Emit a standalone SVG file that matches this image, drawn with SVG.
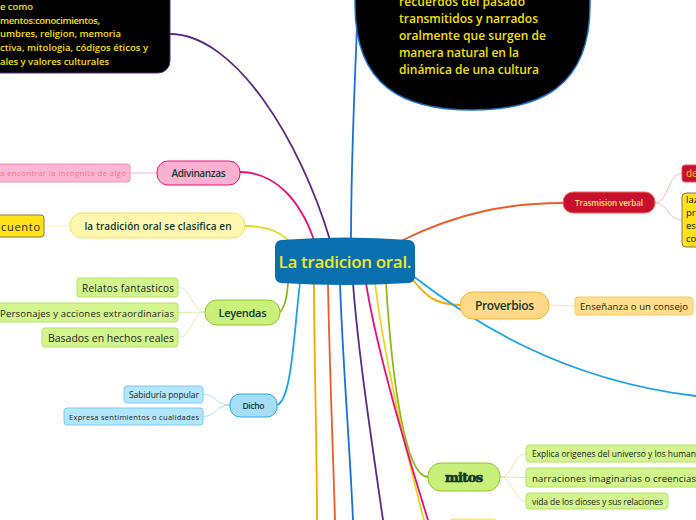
<svg xmlns="http://www.w3.org/2000/svg" width="696" height="520" viewBox="0 0 696 520">
<style>
.t{font-family:"Open Sans","Noto Sans","DejaVu Sans",sans-serif;}
.hd{fill:#10392f;font-weight:600;}
.ch{fill:#222;}
.m{fill:none;stroke-width:1.8;stroke-linecap:round;}
.s{fill:none;stroke-width:1;}
.yl{fill:#f5e000;font-weight:600;}
.lg{fill:#d3f58e;stroke:#b5e06a;stroke-width:1;}
</style>
<rect width="696" height="520" fill="#fff"/>
<g id="connectors">
<path class="m" stroke="#5a2a82" d="M170,34 C235,34 300,140 330,240"/>
<path class="m" stroke="#1a6fe0" d="M357,25 C355,80 351,160 351,240"/>
<path class="m" stroke="#e8137a" d="M240,172 C275,172 300,200 314,240"/>
<path class="m" stroke="#e8d820" d="M245,226 C268,226 280,232 290,242"/>
<path class="m" stroke="#f05a28" d="M403,240 C460,212 510,203 563,203"/>
<path class="m" stroke="#f5a800" d="M413,280 C425,295 435,305 460,305"/>
<path class="m" stroke="#1aa3e8" d="M413,276 C470,320 560,380 696,396"/>
<path class="m" stroke="#8fb81c" d="M280,312 C286,305 287,295 288,283"/>
<path class="m" stroke="#1aa3e8" d="M277,405 C292,400 294,330 300,283"/>
<path class="m" stroke="#8fb81c" d="M386,283 C392,380 405,477 428,477"/>
<path class="m" stroke="#f5a800" d="M314,283 C314,350 317,450 317,520"/>
<path class="m" stroke="#f05a28" d="M328,283 C329,350 333,450 335,520"/>
<path class="m" stroke="#1a6fe0" d="M340,283 C342,350 350,450 353,520"/>
<path class="m" stroke="#5a2a82" d="M353,283 C358,350 370,430 383,520"/>
<path class="m" stroke="#e8d820" d="M375,283 C382,340 400,430 424,520"/>
<path class="m" stroke="#e8137a" d="M366,283 C375,340 400,430 428,520"/>
<path class="s" stroke="#f9b7d2" d="M130,173 L157,173"/>
<path class="s" stroke="#fbf0a0" d="M44,226 L70,226"/>
<path class="s" stroke="#d8f0a8" d="M178,287.5 C192,287.5 192,312 205,312 M178,312.5 L205,312 M178,337.5 C192,337.5 192,312 205,312"/>
<path class="s" stroke="#a9dff5" d="M203,394.5 C216,394.5 216,405 230,405 M203,416.5 C216,416.5 216,405 230,405"/>
<path class="s" stroke="#f8b8a8" d="M655,203 C668,203 668,173.5 682,173.5 M655,203 C668,203 668,220 682,220"/>
<path class="s" stroke="#fde3a0" d="M549,305 L575,306 M693,306 L696,306"/>
<path class="s" stroke="#d8f0a8" d="M500,477 C513,477 513,453.5 526,453.5 M500,477 L526,477.5 M500,477 C513,477 513,501 526,501"/>
</g>
<g id="n-black">
<rect x="-20" y="-20" width="190" height="93" rx="12" fill="#000" stroke="#5a2a82"/>
<text class="t yl" font-size="9.5"><tspan x="0" y="10" textLength="33">e como</tspan><tspan x="0" y="23.5" textLength="100">mentos:conocimientos,</tspan><tspan x="0" y="37" textLength="121">umbres, religion, memoria</tspan><tspan x="0" y="51" textLength="148">ctiva, mitologia, códigos éticos y</tspan><tspan x="0" y="65" textLength="109">ales y valores culturales</tspan></text>
</g>
<g id="n-ellipse">
<path d="M355,-20 L355,5 C355,88 405,110 472,110 C539,110 590,88 590,5 L590,-20 Z" fill="#000" stroke="#1f6fd0" stroke-width="1.5"/>
<text class="t yl" font-size="12"><tspan x="399" y="5.5" textLength="126">recuerdos del pasado</tspan><tspan x="399" y="22.5" textLength="139">transmitidos y narrados</tspan><tspan x="399" y="39.5" textLength="147">oralmente que surgen de</tspan><tspan x="399" y="56.5" textLength="120">manera natural en la</tspan><tspan x="399" y="73.5" textLength="140">dinámica de una cultura</tspan></text>
</g>
<g id="n-adivinanzas">
<rect x="157" y="161" width="83" height="24" rx="11" fill="#fbb0d0" stroke="#e8137a"/>
<text class="t hd" x="198.5" y="176.5" font-size="10" text-anchor="middle" textLength="54">Adivinanzas</text>
</g>
<g id="n-incognita">
<rect x="-5" y="164" width="135" height="18" rx="3" fill="#fcb6d4" stroke="#f08cb8"/>
<text class="t" x="0" y="176" font-size="8" fill="#f0789a" textLength="126">a encontrar la incognita de algo</text>
</g>
<g id="n-clasifica">
<rect x="70" y="213" width="175" height="25" rx="12" fill="#fff6b0" stroke="#f0e060"/>
<text class="t hd" x="158" y="229.5" font-size="10" text-anchor="middle" textLength="147">la tradición oral se clasifica en</text>
</g>
<g id="n-cuento">
<rect x="-5" y="215" width="49" height="22" rx="3" fill="#ffe21a" stroke="#8a7b2a"/>
<text class="t ch" x="1" y="230.5" font-size="11" textLength="39">cuento</text>
</g>
<g id="n-leyendas">
<rect x="205" y="300" width="75" height="25" rx="12" fill="#c9f07a" stroke="#93c52a"/>
<text class="t hd" x="242.5" y="316.5" font-size="11" text-anchor="middle" textLength="48">Leyendas</text>
</g>
<g id="n-relatos">
<rect class="lg" x="77" y="278" width="101" height="19" rx="3"/>
<text class="t ch" x="82" y="291.5" font-size="10" textLength="92">Relatos fantasticos</text>
</g>
<g id="n-personajes">
<rect class="lg" x="-5" y="303" width="183" height="19" rx="3"/>
<text class="t ch" x="0" y="316.5" font-size="9.5" textLength="174">Personajes y acciones extraordinarias</text>
</g>
<g id="n-basados">
<rect class="lg" x="42" y="328" width="136" height="19" rx="3"/>
<text class="t ch" x="48" y="341.5" font-size="10.5" textLength="126">Basados en hechos reales</text>
</g>
<g id="n-dicho">
<rect x="230" y="394" width="47" height="23" rx="10" fill="#a6def7" stroke="#29aae2"/>
<text class="t hd" x="253.5" y="408.5" font-size="8.5" text-anchor="middle" textLength="22">Dicho</text>
</g>
<g id="n-sabiduria">
<rect x="124" y="386" width="79" height="17" rx="3" fill="#b3e5fb" stroke="#7ccbf0"/>
<text class="t ch" x="129" y="397.5" font-size="8.5" textLength="70">Sabiduría popular</text>
</g>
<g id="n-expresa">
<rect x="64" y="408" width="139" height="17" rx="3" fill="#b3e5fb" stroke="#7ccbf0"/>
<text class="t ch" x="69" y="419.5" font-size="7.5" textLength="130">Expresa sentimientos o cualidades</text>
</g>
<g id="n-trasmision">
<rect x="563" y="192" width="92" height="21" rx="10" fill="#c8102e" stroke="#f06a50"/>
<text class="t" x="609" y="205.5" font-size="8" font-weight="600" fill="#ffe27a" text-anchor="middle" textLength="68">Trasmision verbal</text>
</g>
<g id="n-de">
<rect x="682" y="165" width="20" height="17" rx="3" fill="#c8102e" stroke="#e0506a"/>
<text class="t" x="686" y="177" font-size="10" fill="#f5d020">de</text>
</g>
<g id="n-laz">
<rect x="682" y="193" width="20" height="54" rx="4" fill="#ffe21a" stroke="#7a7a5a"/>
<text class="t" font-size="9.5" fill="#111"><tspan x="686" y="203">laz</tspan><tspan x="686" y="216">pr</tspan><tspan x="686" y="229">es</tspan><tspan x="686" y="242">co</tspan></text>
</g>
<g id="n-proverbios">
<rect x="460" y="292" width="89" height="27" rx="13" fill="#ffd98a" stroke="#f5b52e"/>
<text class="t hd" x="504.5" y="310" font-size="12" text-anchor="middle" textLength="59">Proverbios</text>
</g>
<g id="n-ensenanza">
<rect x="575" y="297" width="118" height="18" rx="3" fill="#ffdf8f" stroke="#f7c860"/>
<text class="t ch" x="580" y="309.5" font-size="9.5" textLength="108">Enseñanza o un consejo</text>
</g>
<g id="n-mitos">
<rect x="428" y="463" width="72" height="28" rx="13" fill="#c9f07a" stroke="#93c52a"/>
<text x="464" y="481.5" font-family="'DejaVu Serif',serif" font-weight="900" font-size="13" fill="#10392f" stroke="#10392f" stroke-width="0.7" text-anchor="middle" textLength="38">mitos</text>
</g>
<g id="n-explica">
<rect class="lg" x="526" y="445" width="180" height="17" rx="3"/>
<text class="t ch" x="532" y="457" font-size="8.5" textLength="164">Explica origenes del universo y los human</text>
</g>
<g id="n-narraciones">
<rect class="lg" x="526" y="468" width="180" height="19" rx="3"/>
<text class="t ch" x="532" y="481.5" font-size="9.5" textLength="164">narraciones imaginarias o creencias</text>
</g>
<g id="n-vida">
<rect class="lg" x="526" y="493" width="142" height="16" rx="3"/>
<text class="t ch" x="532" y="504.5" font-size="8.5" textLength="131">vida de los dioses y sus relaciones</text>
</g>
<g id="n-bottom">
<rect x="448" y="519" width="50" height="12" rx="5" fill="#fff6b0" stroke="#f0e060"/>
</g>
<g id="n-central">
<path d="M281,240 Q345,235 409,240 Q415,241 415,247 L415,276 Q415,282 409,283 Q345,287 281,283 Q275,282 275,276 L275,247 Q275,241 281,240 Z" fill="#0a6fae"/>
<text class="t" x="345" y="268" font-size="17" font-weight="600" fill="#f5e61b" text-anchor="middle" textLength="133">La tradicion oral.</text>
</g>
</svg>
